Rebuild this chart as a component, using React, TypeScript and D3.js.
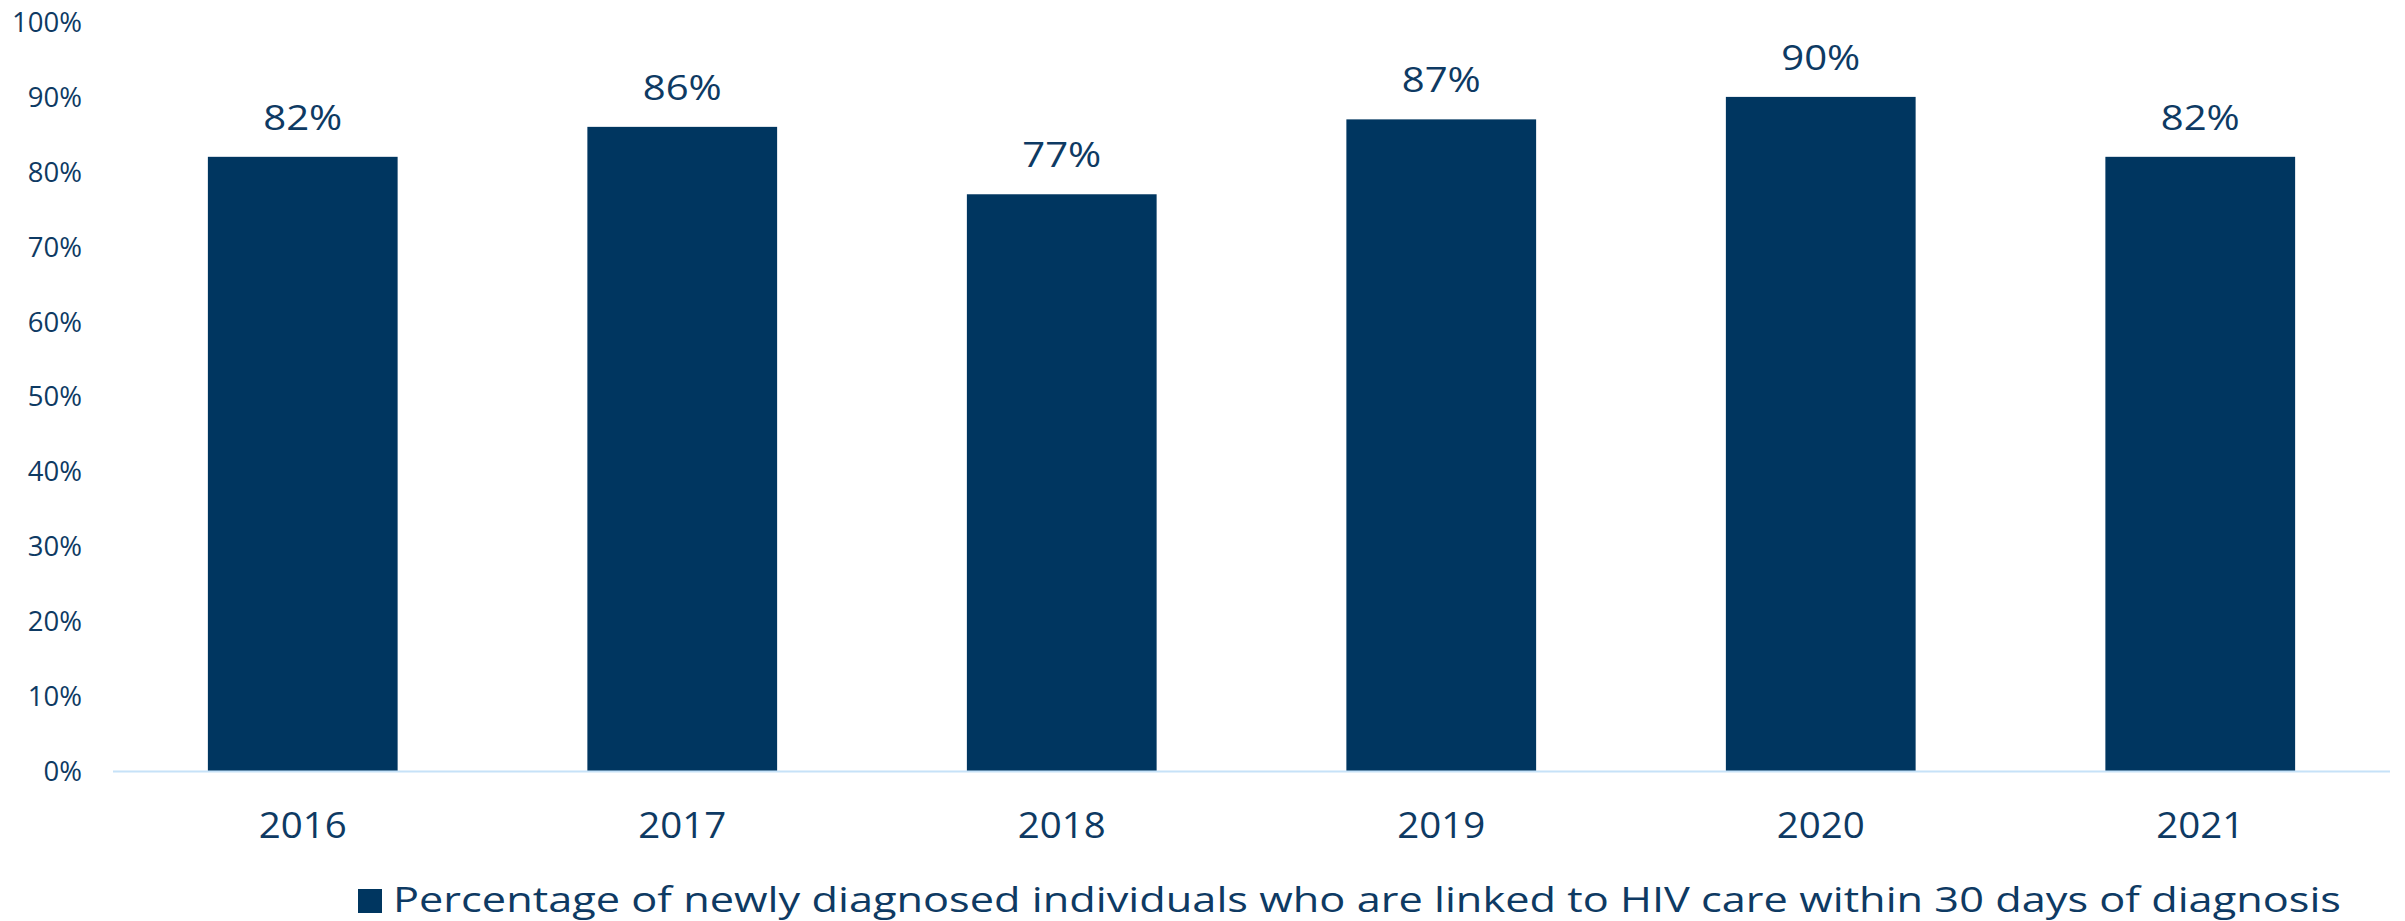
import React from "react";
import * as d3 from "d3";

const years = ["2016", "2017", "2018", "2019", "2020", "2021"];
const values = [82, 86, 77, 87, 90, 82];
const yTicks = [0, 10, 20, 30, 40, 50, 60, 70, 80, 90, 100];
const legendLabel =
  "Percentage of newly diagnosed individuals who are linked to HIV care within 30 days of diagnosis";

const W = 2405;
const H = 921;
const BAR = "#003660";
const TEXT = "#0E3A63";
const FONT = "'Open Sans', sans-serif";

export default function App() {
  const x = d3
    .scaleBand<string>()
    .domain(years)
    .range([113, 2390])
    .paddingInner(0.5)
    .paddingOuter(0.25);
  const y = d3.scaleLinear().domain([0, 100]).range([771, 22]);

  return (
    <svg
      width={W}
      height={H}
      style={{ position: "absolute", left: 0, top: 0, background: "#fff" }}
      fontFamily={FONT}
    >
      <rect x={0} y={0} width={W} height={H} fill="#fff" />
      {yTicks.map((t) => (
        <text
          key={t}
          x={82}
          y={y(t)}
          dy="0.36em"
          textAnchor="end"
          fontSize={27.5}
          fill={TEXT}
        >
          {t}%
        </text>
      ))}
      {years.map((yr, i) => {
        const cx = (x(yr) as number) + x.bandwidth() / 2;
        return (
          <g key={yr}>
            <rect
              x={x(yr)}
              y={y(values[i])}
              width={x.bandwidth()}
              height={y(0) - y(values[i])}
              fill={BAR}
            />
            <text
              transform={`translate(${cx},${y(values[i]) - 27}) scale(1.18,1)`}
              textAnchor="middle"
              fontSize={34}
              fill={TEXT}
            >
              {values[i]}%
            </text>
            <text
              transform={`translate(${cx},838) scale(1.04,1)`}
              textAnchor="middle"
              fontSize={37}
              fill={TEXT}
            >
              {yr}
            </text>
          </g>
        );
      })}
      <line x1={113} x2={2390} y1={771.5} y2={771.5} stroke="#C6E2F8" strokeWidth={2} />
      <rect x={358} y={889} width={24} height={24} fill={BAR} />
      <text
        x={393}
        y={912}
        fontSize={34.5}
        fill={TEXT}
        textLength={1948}
        lengthAdjust="spacingAndGlyphs"
      >
        {legendLabel}
      </text>
    </svg>
  );
}
